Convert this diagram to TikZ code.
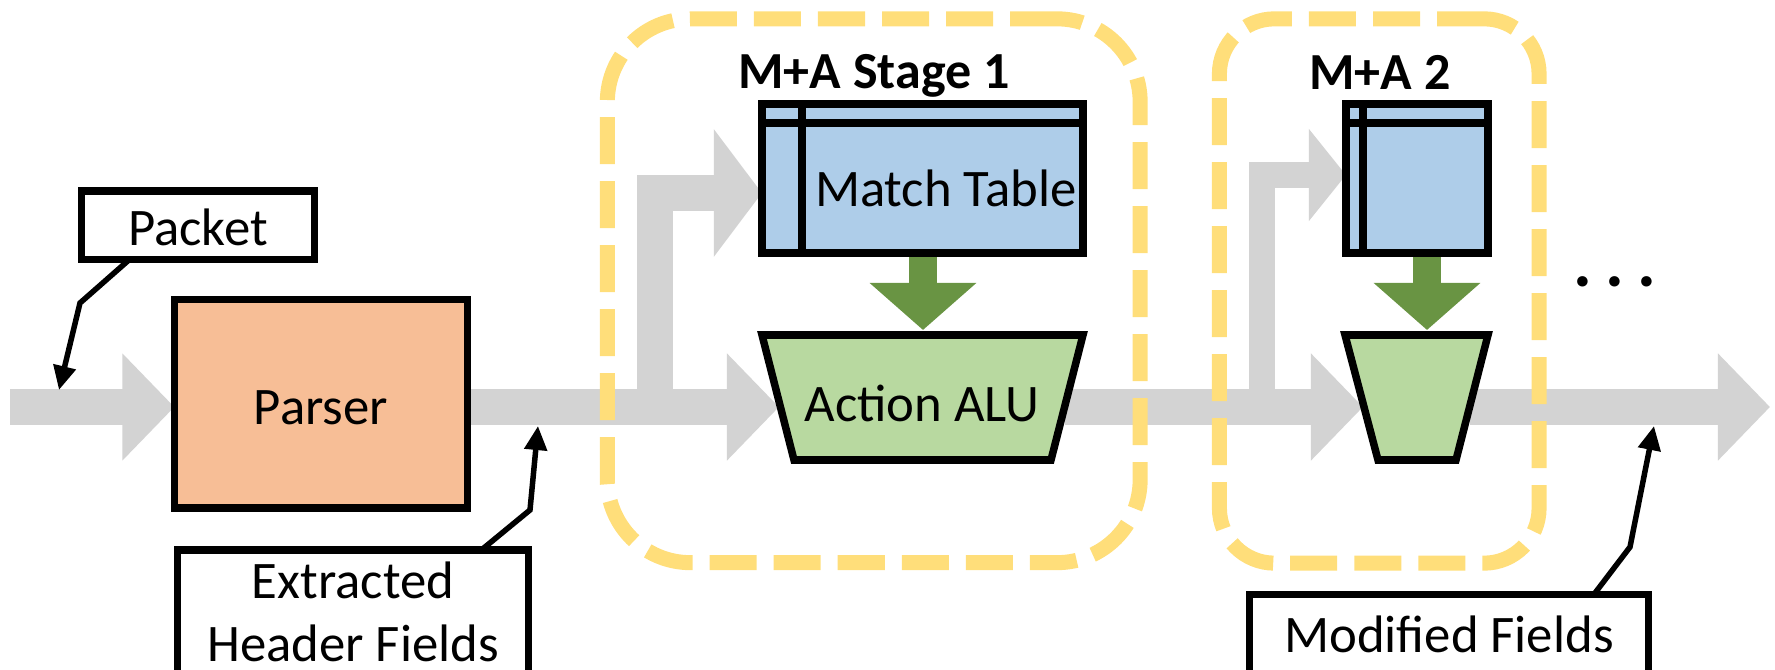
\documentclass[tikz,border=0pt]{standalone}
\usepackage{fontspec}
\setmainfont{Carlito}
\usetikzlibrary{arrows.meta,calc}
\pgfdeclarelayer{under}
\pgfsetlayers{under,main}
\definecolor{flowgray}{HTML}{D3D3D3}
\definecolor{parserfill}{HTML}{F7BE96}
\definecolor{tablefill}{HTML}{AECDE9}
\definecolor{alufill}{HTML}{B8D9A0}
\definecolor{selgreen}{HTML}{699443}
\definecolor{stageyellow}{HTML}{FFDE7A}
\begin{document}
\begin{tikzpicture}[x=0.01cm,y=-0.01cm,
  every node/.style={inner sep=0pt, outer sep=0pt},
  lbl/.style={font=\fontsize{15pt}{18pt}\selectfont},
  stagelbl/.style={font=\fontsize{14.8pt}{18pt}\selectfont\bfseries},
  blackbox/.style={draw=black, line width=0.075cm, line join=miter},
  flow/.style={draw=flowgray, line width=0.36cm},
  flowhead/.style={-{Triangle[length=0.52cm,width=1.04cm]}},
  select/.style={draw=selgreen, line width=0.28cm, -{Triangle[length=0.47cm,width=1.04cm]}},
  callout/.style={draw=black, line width=0.055cm, line join=miter, -{Triangle[length=0.24cm,width=0.22cm]}},
  stagebox/.style={draw=stageyellow, line width=0.15cm, dash pattern=on 0.47cm off 0.17cm}]

\useasboundingbox (0,0) rectangle (1775,670);
\clip (0,0) rectangle (1775,670);

% parser and its callout boxes
\node[blackbox, fill=white, minimum width=2.33cm, minimum height=0.685cm] (packet) at (198,225.25) {};
\node[lbl, anchor=base] (packet-text) at (198,246) {Packet};
\node[blackbox, fill=parserfill, minimum width=2.93cm, minimum height=2.085cm] (parser) at (321,403.75) {};
\node[lbl, anchor=base] (parser-text) at (321,424) {Parser};
\node[blackbox, fill=white, minimum width=3.51cm, minimum height=1.4cm] (extracted) at (353,620) {};
\node[lbl, anchor=base] (extracted-text1) at (353,598) {Extracted};
\node[lbl, anchor=base] (extracted-text2) at (353,661) {Header Fields};
\node[blackbox, fill=white, minimum width=3.99cm, minimum height=1cm] (modified) at (1449,644.5) {};
\node[lbl, anchor=base] (modified-text) at (1449,652) {Modified Fields};

% stage 1: match table and action ALU
\node[blackbox, fill=tablefill, minimum width=3.21cm, minimum height=1.49cm] (mt1) at (922.5,178.5) {};
\draw[blackbox] ($(mt1.north west)+(0,19)$) -- ($(mt1.north east)+(0,19)$);
\draw[blackbox] ($(mt1.north west)+(40,0)$) -- ($(mt1.south west)+(40,0)$);
\node[lbl, anchor=base west] (mt1-text) at (815,207) {Match Table};
\coordinate (alu1-nw) at (762,335);
\coordinate (alu1-ne) at (1083,335);
\coordinate (alu1-se) at (1051,460);
\coordinate (alu1-sw) at (794,460);
\draw[blackbox, fill=alufill] (alu1-nw) -- (alu1-ne) -- (alu1-se) -- (alu1-sw) -- cycle;
\node[lbl, anchor=base] (alu1-text) at (922,422) {Action ALU};

% stage 2
\node[blackbox, fill=tablefill, minimum width=1.42cm, minimum height=1.49cm] (mt2) at (1417,178.5) {};
\draw[blackbox] ($(mt2.north west)+(0,19)$) -- ($(mt2.north east)+(0,19)$);
\draw[blackbox] ($(mt2.north west)+(17,0)$) -- ($(mt2.south west)+(17,0)$);
\coordinate (alu2-nw) at (1345,335);
\coordinate (alu2-ne) at (1488,335);
\coordinate (alu2-se) at (1456,460);
\coordinate (alu2-sw) at (1378,460);
\draw[blackbox, fill=alufill] (alu2-nw) -- (alu2-ne) -- (alu2-se) -- (alu2-sw) -- cycle;

% stage outlines and titles
\node[stagebox, rounded corners=0.83cm, minimum width=5.325cm, minimum height=5.435cm] (stage1) at (873.75,290.75) {};
\node[stagebox, rounded corners=0.55cm, minimum width=3.195cm, minimum height=5.44cm] (stage2) at (1379.25,291) {};
\node[stagelbl, anchor=base] (stage1-title) at (874,89) {M+A Stage 1};
\node[stagelbl, anchor=base] (stage2-title) at (1380,90) {M+A 2};
\node[font=\fontsize{20pt}{24pt}\selectfont\bfseries, anchor=base] (more) at (1615,287) {.\hspace{0.13cm}.\hspace{0.13cm}.};

\begin{pgfonlayer}{under}
  % packet flow
  \coordinate (src) at (10,407);
  \coordinate (alu1-in) at (779,407);
  \coordinate (split1) at (655,407);
  \coordinate (mt1-in) at ($(mt1.west)+(0,14.5)$);
  \coordinate (alu1-out) at (1065,407);
  \coordinate (alu2-in) at (1363,407);
  \coordinate (split2) at (1262,407);
  \coordinate (mt2-in) at ($(mt2.west)+(0,-3.5)$);
  \coordinate (alu2-out) at (1470,407);
  \coordinate (sink) at (1770,407);
  \draw[flow, flowhead] (src) -- (parser.west |- src);
  \draw[flow, flowhead] (parser.east |- src) -- (alu1-in);
  \draw[flow, -{Triangle[length=0.48cm,width=1.25cm]}] (split1) |- (mt1-in);
  \draw[flow, flowhead] (alu1-out) -- (alu2-in);
  \draw[flow, line width=0.26cm, -{Triangle[length=0.37cm,width=0.9cm]}] (split2) |- (mt2-in);
  \draw[flow, flowhead] (alu2-out) -- (sink);

  % table result into the ALU
  \coordinate (sel1-tip) at (923,330);
  \coordinate (sel2-tip) at (1427,330);
  \draw[select] ($(mt1.south)+(0.5,0)$) -- (sel1-tip);
  \draw[select] ($(mt2.south)+(10,0)$) -- (sel2-tip);

  % callouts
  \coordinate (pkt-bend) at (80,303);
  \coordinate (pkt-tip) at (59,390);
  \draw[callout] ($(packet.south west)+(48,0)$) -- (pkt-bend) -- (pkt-tip);
  \coordinate (ext-bend) at (530,510);
  \coordinate (ext-tip) at (538,426);
  \draw[callout] ($(extracted.north west)+(304,0)$) -- (ext-bend) -- (ext-tip);
  \coordinate (mod-bend) at (1630,547);
  \coordinate (mod-tip) at (1654,426);
  \draw[callout] ($(modified.north west)+(344.5,0)$) -- (mod-bend) -- (mod-tip);
\end{pgfonlayer}
\end{tikzpicture}
\end{document}
